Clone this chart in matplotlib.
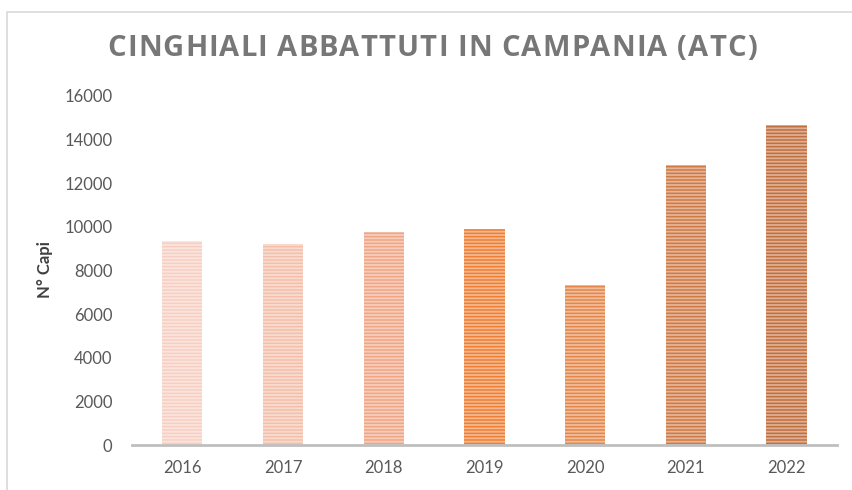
import matplotlib
matplotlib.use("Agg")
import matplotlib.pyplot as plt
from matplotlib.patches import Rectangle
from matplotlib.font_manager import FontProperties

years = ["2016", "2017", "2018", "2019", "2020", "2021", "2022"]
capi = [9370, 9200, 9750, 9900, 7350, 12850, 14650]
y_ticks = [0, 2000, 4000, 6000, 8000, 10000, 12000, 14000, 16000]
title = "CINGHIALI ABBATTUTI IN CAMPANIA (ATC)"

bar_colors = ["#F7CFC2", "#F4BFAA", "#F0A585", "#EE7F35", "#E5874A", "#CF7A45", "#C26F3E"]

plt.rcParams["hatch.linewidth"] = 1.3

W, H = 853, 490
fig = plt.figure(figsize=(W / 100, H / 100), dpi=100)
fig.patch.set_facecolor("white")

# light frame around the chart area
fig.add_artist(Rectangle((7 / W, -0.02), 1.02, 1 - 12 / H + 0.02,
                         transform=fig.transFigure, fill=False,
                         edgecolor="#D9D9D9", linewidth=1.2))

ax = fig.add_axes([132 / W, 1 - 445 / H, (837 - 132) / W, (445 - 96) / H])
x = range(len(years))
ax.bar(x, capi, width=0.4, color=bar_colors, linewidth=0)
ax.bar(x, capi, width=0.4, facecolor="none", edgecolor=(1, 1, 1, 0.45),
       hatch="-----", linewidth=0)

ax.set_xlim(-0.5, len(years) - 0.5)
ax.set_ylim(0, 16000)
ax.set_yticks(y_ticks)
ax.set_yticklabels([str(v) for v in y_ticks])
ax.set_xticks(list(x))
ax.set_xticklabels(years)

for side in ("top", "right", "left"):
    ax.spines[side].set_visible(False)
ax.spines["bottom"].set_color("#BFBFBF")
ax.spines["bottom"].set_linewidth(2)
ax.tick_params(axis="both", length=0, labelsize=12, labelcolor="#595959")
ax.tick_params(axis="y", pad=14)
ax.tick_params(axis="x", pad=11)
for lab in ax.get_xticklabels() + ax.get_yticklabels():
    lab.set_fontfamily("Lato")

fig.text(45 / W, 1 - 270 / H, "N° Capi", rotation=90, ha="center", va="center",
         fontsize=12, fontweight="bold", color="#404040", family="Lato")

# letter-spaced title, drawn character by character
renderer = fig.canvas.get_renderer()
prop = FontProperties(family="Open Sans", weight="bold", size=21)
widths = [renderer.get_text_width_height_descent(c, prop, ismath=False)[0]
          for c in title]
target_span = 649.0
spacing = (target_span - sum(widths)) / (len(title) - 1)
xpos = 432.0 - target_span / 2
for c, w in zip(title, widths):
    fig.text(xpos / W, 1 - 49 / H, c, ha="left", va="center",
             fontproperties=prop, color="#777777")
    xpos += w + spacing

fig.savefig("out.png", dpi=100, facecolor="white")
